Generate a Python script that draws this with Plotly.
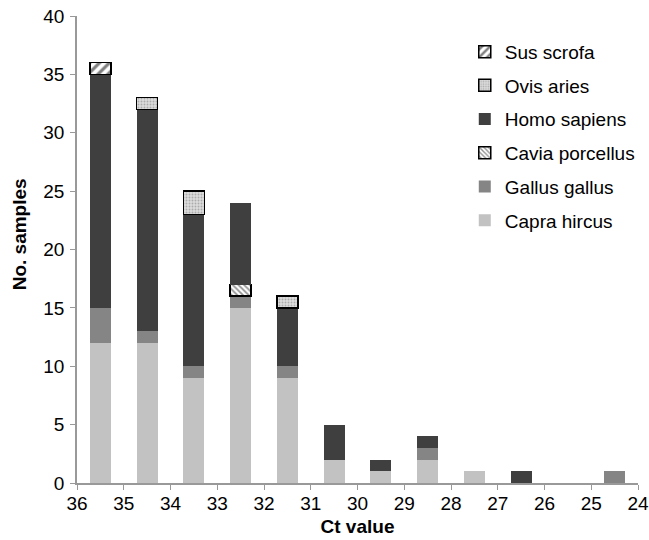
import plotly.graph_objects as go

ct_bins = [35.5, 34.5, 33.5, 32.5, 31.5, 30.5, 29.5, 28.5, 27.5, 26.5, 25.5, 24.5]
capra_hircus = [12, 12, 9, 15, 9, 2, 1, 2, 1, 0, 0, 0]
gallus_gallus = [3, 1, 1, 1, 1, 0, 0, 1, 0, 0, 0, 1]
cavia_porcellus = [0, 0, 0, 1, 0, 0, 0, 0, 0, 0, 0, 0]
homo_sapiens = [20, 19, 13, 7, 5, 3, 1, 1, 0, 1, 0, 0]
ovis_aries = [0, 1, 2, 0, 1, 0, 0, 0, 0, 0, 0, 0]
sus_scrofa = [1, 0, 0, 0, 0, 0, 0, 0, 0, 0, 0, 0]

x_ticks = list(range(24, 37))

series = [
    ("Capra hircus", capra_hircus, dict(color="#c2c2c2", line=dict(width=0))),
    ("Gallus gallus", gallus_gallus, dict(color="#858585", line=dict(width=0))),
    ("Cavia porcellus", cavia_porcellus, dict(color="white", line=dict(color="black", width=1.5),
        pattern=dict(shape="\\", fgcolor="#222222", bgcolor="white", size=4, solidity=0.45))),
    ("Homo sapiens", homo_sapiens, dict(color="#3f3f3f", line=dict(width=0))),
    ("Ovis aries", ovis_aries, dict(color="#d6d6d6", line=dict(color="black", width=1.5),
        pattern=dict(shape=".", fgcolor="#7a7a7a", bgcolor="#dcdcdc", size=3, solidity=0.3))),
    ("Sus scrofa", sus_scrofa, dict(color="white", line=dict(color="black", width=1.5),
        pattern=dict(shape="/", fgcolor="black", bgcolor="white", size=7, solidity=0.45))),
]

fig = go.Figure()
n = len(series)
for i, (name, vals, marker) in enumerate(series):
    yv = [v if v != 0 else None for v in vals]
    fig.add_trace(go.Bar(x=ct_bins, y=yv, name=name, marker=marker, width=0.45,
                         legendgroup=name, legendrank=n - i))

fig.update_layout(
    width=649, height=540,
    barmode="stack",
    plot_bgcolor="white", paper_bgcolor="white",
    margin=dict(l=77, r=10, t=16, b=57),
    font=dict(family="Liberation Sans, Arial, sans-serif", size=19, color="black"),
    legend=dict(x=0.69, y=0.964, xanchor="left", yanchor="top",
                traceorder="grouped", tracegroupgap=6,
                font=dict(size=19), bgcolor="rgba(0,0,0,0)"),
    showlegend=True,
    annotations=[dict(text="<b>No. samples</b>", textangle=-90, showarrow=False,
                      xref="paper", yref="paper", x=-0.103, y=0.533,
                      xanchor="center", yanchor="middle", font=dict(size=19))],
)
fig.update_xaxes(range=[36, 24], tickvals=x_ticks, ticks="outside", ticklen=5,
                 tickcolor="#999999", showline=True, linecolor="#999999", linewidth=1.5,
                 showgrid=False, zeroline=False, automargin=False, ticklabeloverflow="allow",
                 ticklabelstandoff=-3,
                 title=dict(text="<b>Ct value</b>", font=dict(size=19), standoff=7))
fig.update_yaxes(range=[0, 40], dtick=5, ticks="outside", ticklen=5,
                 tickcolor="#999999", showline=True, linecolor="#999999", linewidth=1.5,
                 showgrid=False, zeroline=False, automargin=False, ticklabeloverflow="allow",
                 ticklabelstandoff=2)

fig.write_html("out.html", config={"displayModeBar": False},
               post_script="document.body.style.margin='0';document.body.style.overflow='hidden';")
